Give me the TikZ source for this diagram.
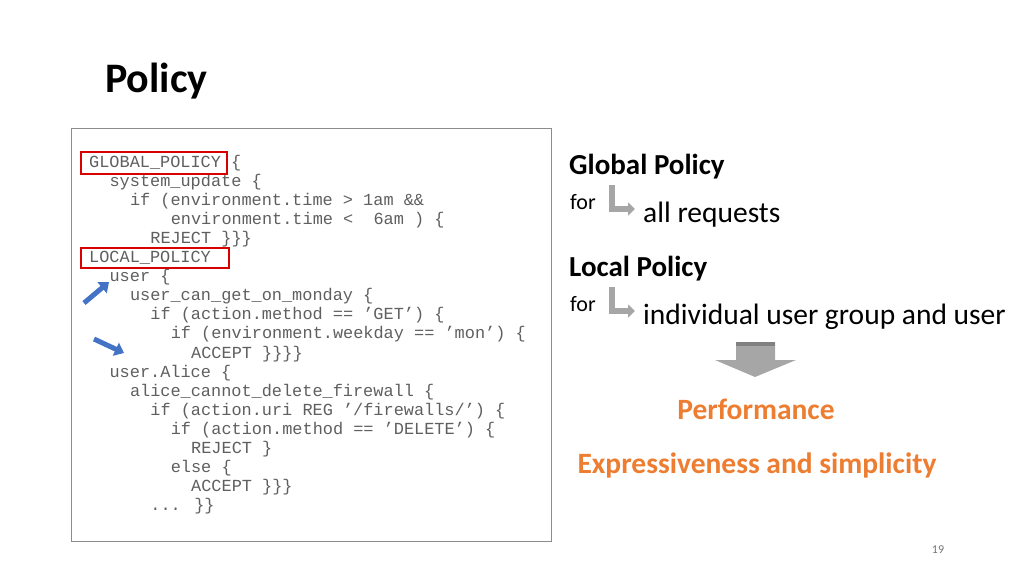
\documentclass[tikz,border=0pt]{standalone}
\usepackage{fontspec}
\setmainfont{Carlito}
\newfontfamily\codefont{Liberation Mono}
\usetikzlibrary{arrows.meta}
\definecolor{codegray}{RGB}{95,95,95}
\definecolor{perforange}{RGB}{237,125,49}
\definecolor{arrowblue}{RGB}{68,114,196}
\tikzset{
  codeline/.style={anchor=base west,inner sep=0pt,text=codegray,font=\codefont\fontsize{16.9}{19}\selectfont},
  redbox/.style={draw=red!85!black,line width=1.6pt},
  bluearrow/.style={draw=arrowblue,line width=5pt,-{Triangle[length=9pt,width=14pt]}},
  elbow/.style={draw=black!35,line width=5.5pt,-{Triangle[length=7pt,width=13pt]}},
  heading/.style={anchor=base west,inner sep=0pt,font=\bfseries\fontsize{29}{33}\selectfont},
  body/.style={anchor=base west,inner sep=0pt,font=\fontsize{29.5}{34}\selectfont},
  forlabel/.style={anchor=base west,inner sep=0pt,font=\fontsize{22}{26}\selectfont},
  result/.style={anchor=base,inner sep=0pt,text=perforange,font=\bfseries\fontsize{29.5}{34}\selectfont}
}
\begin{document}
\begin{tikzpicture}[x=1pt,y=-1pt]
\useasboundingbox (0,0) rectangle (1024,576);
% title
\node[anchor=base west,inner sep=0pt,font=\bfseries\fontsize{42}{46}\selectfont] (title) at (105,92) {Policy};
% code box
\draw[black!45,line width=1pt] (71,128) rectangle (551,541);
\foreach \ind/\txt [count=\i from 0] in {
  0/{GLOBAL\_POLICY \{},
  2/{system\_update \{},
  4/{if (environment.time > 1am \&\&},
  8/{environment.time <~~6am ) \{},
  6/{REJECT \}\}\}},
  0/{LOCAL\_POLICY},
  2/{user \{},
  4/{user\_can\_get\_on\_monday \{},
  6/{if (action.method == ’GET’) \{},
  8/{if (environment.weekday == ’mon’) \{},
  10/{ACCEPT \}\}\}\}},
  2/{user.Alice \{},
  4/{alice\_cannot\_delete\_firewall \{},
  6/{if (action.uri REG ’/firewalls/’) \{},
  8/{if (action.method == ’DELETE’) \{},
  10/{REJECT \}},
  8/{else \{},
  10/{ACCEPT \}\}\}},
  6/{... \}\}}}
  \node[codeline] (code\i) at ({89+10.2*\ind},{167+19.1*\i}) {\txt};
% highlights
\draw[redbox] (81,152) rectangle (227,174);
\draw[redbox] (81,248) rectangle (229,268);
\draw[bluearrow] (84,303) -- (109,282);
\draw[bluearrow] (94,339) -- (124,353);
% right side
\node[heading] (global) at (569,174) {Global Policy};
\node[forlabel] (for1) at (570,209) {for};
\draw[elbow] (612,185) |- (635,209);
\node[body] (allreq) at (643,222) {all requests};
\node[heading] (local) at (569,276) {Local Policy};
\node[forlabel] (for2) at (570,311) {for};
\draw[elbow] (612,287) |- (635,311);
\node[body] (indiv) at (643,324) {individual user group and user};
% down arrow
\fill[black!35] (736,342) -- (775,342) -- (775,360) -- (796,360) -- (755,377) -- (715,360) -- (736,360) -- cycle;
\fill[black!50] (736,342) rectangle (775,346);
\node[result] (perf) at (756,419) {Performance};
\node[result] (expr) at (757,473) {Expressiveness and simplicity};
\node[anchor=base,inner sep=0pt,text=black!55,font=\fontsize{12}{14}\selectfont] (page) at (938,553) {19};
\end{tikzpicture}
\end{document}
